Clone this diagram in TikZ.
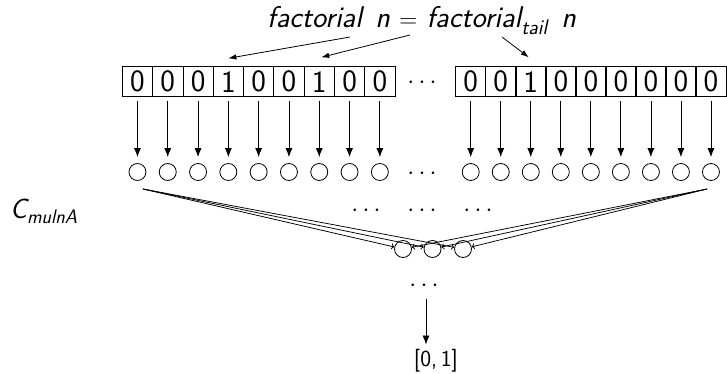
\documentclass[tikz,border=0pt]{standalone}
\usetikzlibrary{arrows.meta}
\begin{document}
\begin{tikzpicture}[x=1pt,y=-1pt,
  cell/.style={draw, line width=0.8pt, minimum width=30.3pt, minimum height=30pt,
    inner sep=0pt, font=\sffamily\fontsize{31}{32}\selectfont},
  unit/.style={draw, circle, line width=0.8pt, minimum size=17pt, inner sep=0pt},
  feed/.style={-{Latex[length=9pt,width=7pt]}, line width=0.8pt},
  pointer/.style={-{Latex[length=8pt,width=5.5pt]}, line width=0.8pt},
  link/.style={-{To[length=3pt,width=6pt]}, line width=0.75pt},
  dots/.style={anchor=base, inner sep=0pt, font=\fontsize{26}{30}\selectfont},
  label/.style={inner sep=0pt, font=\sffamily\itshape\fontsize{30}{34}\selectfont},
]
\useasboundingbox (0,0) rectangle (727,374);

% bit strings
\foreach \b [count=\i] in {0,0,0,1,0,0,1,0,0}
  \node[cell] (L\i) at ({122.3+30.3*(\i-0.5)},81.7) {\b};
\foreach \b [count=\i] in {0,0,1,0,0,0,0,0,0}
  \node[cell] (R\i) at ({455.7+30.03*(\i-0.5)},81.7) {\b};
\node[dots] (topdots) at (422,88.5) {$\cdots$};

% input units
\foreach \i in {1,...,9} {
  \node[unit] (cL\i) at ({122.3+30.3*(\i-0.5)},172) {};
  \node[unit] (cR\i) at ({455.7+30.03*(\i-0.5)},172) {};
  \draw[feed, shorten <=4pt, shorten >=6pt] (L\i.south) -- (cL\i.north);
  \draw[feed, shorten <=4pt, shorten >=6pt] (R\i.south) -- (cR\i.north);
}
\node[dots] (unitdots) at (422,179.5) {$\cdots$};

% title and pointers to the set bits
\node[label, anchor=base west] (title) at (267,28)
  {factorial\hspace{0.45em}n $=$ factorial\textsubscript{tail}\hspace{0.45em}n};
\coordinate (t1) at (350,37);
\coordinate (t2) at (410,35);
\coordinate (t3) at (502,37);
\draw[pointer] (t1) -- ([yshift=8pt]L4.north);
\draw[pointer] (t2) -- ([xshift=2pt,yshift=9pt]L7.north);
\draw[pointer] (t3) -- ([xshift=-2pt,yshift=9pt]R3.north);

% circuit label
\node[label, anchor=base west, font=\sffamily\itshape\fontsize{28}{32}\selectfont] (circ) at (10,218) {C\textsubscript{mulnA}};

% hidden layer
\node[dots] (m1) at (366,216.5) {$\cdots$};
\node[dots] (m2) at (422,216.5) {$\cdots$};
\node[dots] (m3) at (478,216.5) {$\cdots$};

\node[unit] (b1) at (403,249) {};
\node[unit] (b2) at (432.5,249) {};
\node[unit] (b3) at (463,249) {};
\coordinate (ls) at (143,189);
\coordinate (rs) at (707,189);
\foreach \k in {1,2,3} {
  \draw[link] (ls) -- (b\k);
  \draw[link] (rs) -- (b\k);
}

% output
\node[dots] (bd) at (424,291.5) {$\cdots$};
\node[anchor=base, inner sep=0pt, font=\sffamily\fontsize{23}{26}\selectfont] (out) at (436,366) {[0,\,1]};
\draw[feed] ([xshift=2pt,yshift=-7.5pt]bd.south) -- ([xshift=-10pt,yshift=4pt]out.north);
\end{tikzpicture}
\end{document}
